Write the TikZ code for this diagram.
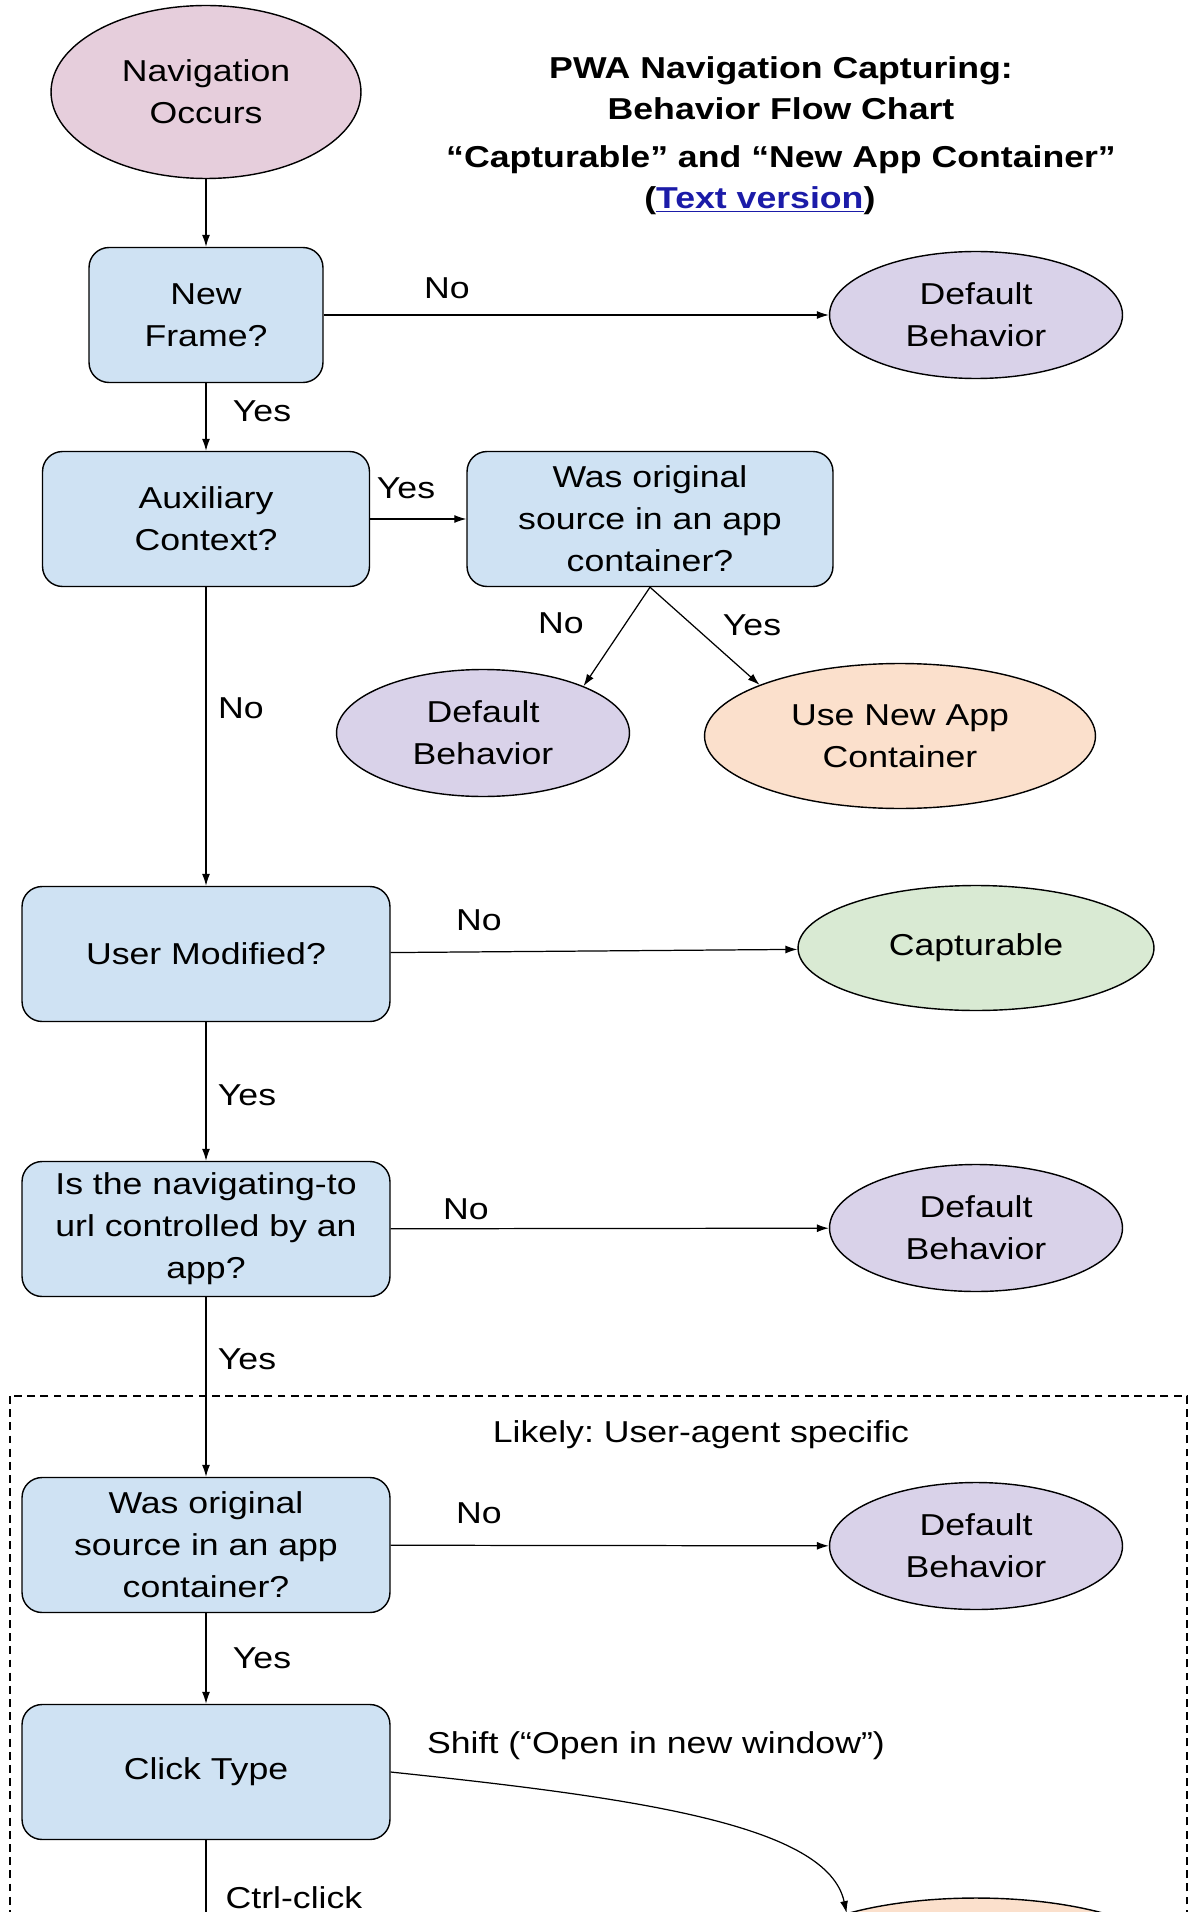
\documentclass[tikz,border=0pt]{standalone}
\usepackage{fontspec}
\setmainfont{Liberation Sans}[FakeStretch=1.18]
\usepackage{tikz}
\usetikzlibrary{shapes.geometric,arrows.meta}
\frenchspacing

\definecolor{qblue}{HTML}{CFE2F3}
\definecolor{startpink}{HTML}{E6CEDC}
\definecolor{defpurple}{HTML}{D9D2E9}
\definecolor{neworange}{HTML}{FBE0CC}
\definecolor{capgreen}{HTML}{D9EAD3}
\definecolor{linkblue}{HTML}{1B1BA8}

\tikzset{
    qbox/.style={draw, line width=0.8pt, fill=qblue, rounded corners=0.4cm, align=center,
        inner sep=0pt, minimum height=2.7cm},
    endell/.style={draw, line width=0.8pt, ellipse, align=center, inner sep=0pt},
    defell/.style={endell, fill=defpurple, minimum width=5.86cm, minimum height=2.54cm},
    newell/.style={endell, fill=neworange, minimum width=7.82cm, minimum height=2.9cm},
    lbl/.style={inner sep=0pt},
    flow/.style={line width=0.7pt, -{Latex[length=2.4mm,width=1.6mm]}},
}

\begin{document}
\begin{tikzpicture}[x=0.02cm, y=0.02cm, font=\fontsize{17.2}{23.9}\selectfont]
    \useasboundingbox (0,0) rectangle (1191,-1912);
    \clip (0,0) rectangle (1191,-1912);

    % title
    \node [align=center, font=\fontsize{17.2}{23.9}\selectfont\bfseries] (title) at (781,-136)
    {PWA Navigation Capturing:\\[-0.5pt] Behavior Flow Chart\\[3pt]
     “Capturable” and “New App Container”\\[0pt]
     (\textcolor{linkblue}{\underline{Text version}})\hspace*{1.4em}};

    % upper part
    \node [endell, fill=startpink, minimum width=6.2cm, minimum height=3.46cm] (nav) at (206,-92) {Navigation\\Occurs};
    \node [qbox, minimum width=4.68cm] (newframe) at (206,-315) {New\\Frame?};
    \node [defell] (def1) at (976,-315) {Default\\Behavior};
    \node [qbox, minimum width=6.54cm] (aux) at (206,-519) {Auxiliary\\Context?};
    \node [qbox, minimum width=7.32cm] (orig1) at (650,-519) {Was original\\source in an app\\container?};
    \node [defell] (def2) at (483,-733) {Default\\Behavior};
    \node [newell] (newapp) at (900,-736) {Use New App\\Container};

    \node [qbox, minimum width=7.36cm] (usermod) at (206,-954) {User Modified?};
    \node [endell, fill=capgreen, minimum width=7.12cm, minimum height=2.5cm] (capt) at (976,-948) {Capturable};
    \node [qbox, minimum width=7.36cm] (urlapp) at (206,-1229) {Is the navigating-to\\url controlled by an\\app?};
    \node [defell] (def3) at (976,-1228) {Default\\Behavior};

    % user-agent specific part
    \draw [line width=0.6pt, dash pattern=on 4.5pt off 3pt] (10,-1396) rectangle (1187,-2050);
    \node (uabox) at (701,-1435) {Likely: User-agent specific};
    \node [qbox, minimum width=7.36cm] (orig2) at (206,-1545) {Was original\\source in an app\\container?};
    \node [defell] (def4) at (976,-1546) {Default\\Behavior};
    \node [qbox, minimum width=7.36cm] (click) at (206,-1772) {Click Type};
    \node [newell, minimum width=8.2cm, minimum height=2.8cm] (newwin) at (976,-1968) {};
    \coordinate (ctrlend) at (206,-1995);

    \draw [flow] (nav) -- (newframe);
    \draw [flow] (newframe) -- (def1);
    \draw [flow] (newframe) -- (aux);
    \draw [flow] (aux) -- (orig1);
    \draw [flow] (orig1.south) -- (def2.25);
    \draw [flow] (orig1.south) -- (newapp.160);
    \draw [flow] (aux) -- (usermod);
    \draw [flow] (usermod) -- (capt);
    \draw [flow] (usermod) -- (urlapp);
    \draw [flow] (urlapp) -- (def3);
    \draw [flow] (urlapp) -- (orig2);
    \draw [flow] (orig2) -- (def4);
    \draw [flow] (orig2) -- (click);
    \draw [flow] (click.east) .. controls +(-6:250) and +(102:90) .. (newwin.157);
    \draw [flow] (click) -- (ctrlend);

    % labels
    \node [lbl] (lnf) at (447,-288) {No};
    \node [lbl] (lnfy) at (262,-411) {Yes};
    \node [lbl] (lauxy) at (406,-488) {Yes};
    \node [lbl] (lo1n) at (561,-623) {No};
    \node [lbl] (lo1y) at (752,-625) {Yes};
    \node [lbl] (lauxn) at (241,-708) {No};
    \node [lbl] (lumn) at (479,-920) {No};
    \node [lbl] (lumy) at (247,-1095) {Yes};
    \node [lbl] (lurln) at (466,-1209) {No};
    \node [lbl] (lurly) at (247,-1359) {Yes};
    \node [lbl] (lo2n) at (479,-1513) {No};
    \node [lbl] (lo2y) at (262,-1658) {Yes};
    \node [lbl] (lshift) at (656,-1746) {Shift (“Open in new window”)};
    \node [lbl] (lctrl) at (294,-1898) {Ctrl-click};
\end{tikzpicture}
\end{document}
